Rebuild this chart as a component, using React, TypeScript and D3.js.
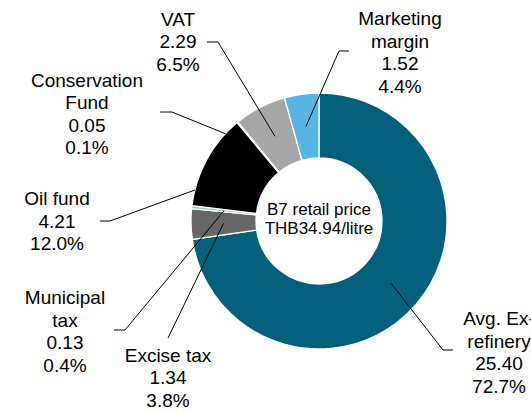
import * as d3 from "d3";

// slice data, clockwise from 12 o'clock
const categories = ["Avg. Ex-refinery", "Excise tax", "Municipal tax", "Oil fund", "Conservation Fund", "VAT", "Marketing margin"];
const values = [25.40, 1.34, 0.13, 4.21, 0.05, 2.29, 1.52];
const shares = ["72.7%", "3.8%", "0.4%", "12.0%", "0.1%", "6.5%", "4.4%"];
const nameLines = [["Avg. Ex-", "refinery"], ["Excise tax"], ["Municipal", "tax"], ["Oil fund"], ["Conservation", "Fund"], ["VAT"], ["Marketing", "margin"]];
const colors = ["#03607B", "#676767", "#93C3B3", "#000000", "#EEF4F3", "#A6A6A6", "#57B5E3"];
const centerLines = ["B7 retail price", "THB34.94/litre"];

const W = 531;
const H = 412;
const cx = 319;
const cy = 221;
const rOuter = 128;
const rInner = 63;
const lineGap = 22.6;
const font = "'Liberation Sans', Arial, sans-serif";

// label placement (x centre, first baseline) and leader line bends
const layout = [
  { x: 499, y: 325, bend: [443, 350], end: [453, 350] },
  { x: 168, y: 361.5, bend: null, end: [168, 338] },
  { x: 65, y: 304, bend: [125, 330], end: [114, 330] },
  { x: 57, y: 205, bend: [110, 221], end: [100, 221], edgeDeg: 284 },
  { x: 87, y: 86.5, bend: [172, 112], end: [160, 112], edgeDeg: 313 },
  { x: 178, y: 25.7, bend: [218, 42], end: [207, 42] },
  { x: 400, y: 25, bend: [339, 51], end: [349, 51] },
];

export default function App() {
  const pie = d3.pie<number>().sort(null).value((d) => d)(values);
  const arc = d3.arc<d3.PieArcDatum<number>>().innerRadius(rInner).outerRadius(rOuter);

  return (
    <svg width={W} height={H} style={{ position: "absolute", left: 0, top: 0, background: "#fff" }}>
      <g transform={`translate(${cx},${cy})`}>
        {pie.map((p, i) => (
          <path key={categories[i]} d={arc(p) || ""} fill={colors[i]} stroke="#fff" strokeWidth={1.3} />
        ))}
      </g>
      {pie.map((p, i) => {
        const l = layout[i];
        let ax: number, ay: number;
        if (l.edgeDeg !== undefined) {
          const a = (l.edgeDeg * Math.PI) / 180;
          ax = cx + rOuter * Math.sin(a);
          ay = cy - rOuter * Math.cos(a);
        } else {
          const [x0, y0] = arc.centroid(p);
          ax = cx + x0;
          ay = cy + y0;
        }
        const pts = [[ax, ay]];
        if (l.bend) pts.push(l.bend);
        pts.push(l.end);
        const lines = [...nameLines[i], values[i].toFixed(2), shares[i]];
        return (
          <g key={categories[i]}>
            <path d={d3.line()(pts as [number, number][]) || ""} fill="none" stroke="#000" strokeWidth={1} />
            <text x={l.x} y={l.y} textAnchor="middle" fontFamily={font} fontSize={19} fill="#000">
              {lines.map((t, j) => (
                <tspan key={j} x={l.x} y={l.y + j * lineGap}>{t}</tspan>
              ))}
            </text>
          </g>
        );
      })}
      <text textAnchor="middle" fontFamily={font} fontSize={17} fill="#000">
        {centerLines.map((t, j) => (
          <tspan key={j} x={cx} y={215 + j * 19}>{t}</tspan>
        ))}
      </text>
    </svg>
  );
}
